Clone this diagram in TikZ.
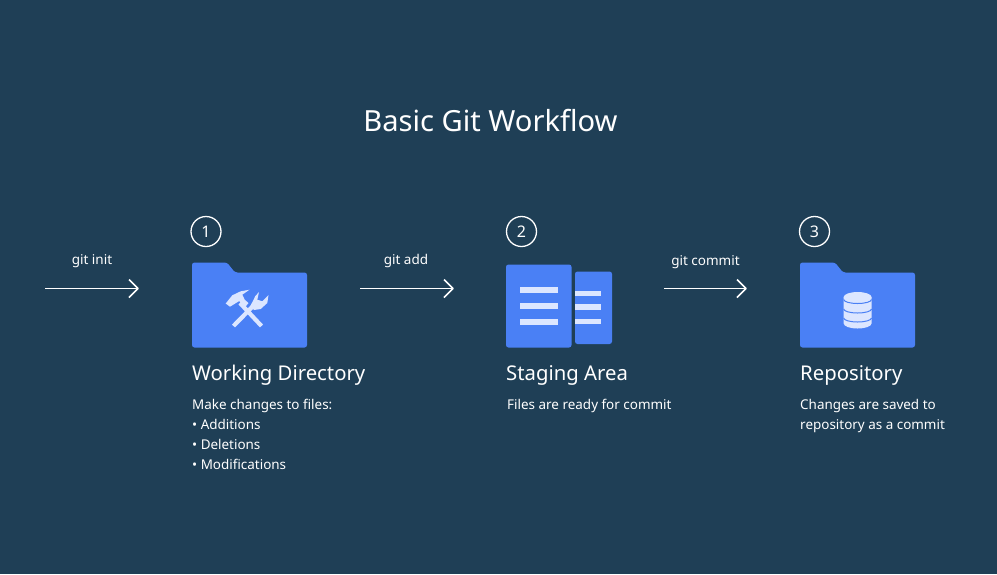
\documentclass[tikz,border=0pt]{standalone}
\usepackage{fontspec}
\setmainfont{Noto Sans}
\definecolor{bg}{HTML}{1F3F56}
\definecolor{fold}{HTML}{4A80F5}
\definecolor{ico}{HTML}{DCE6FF}
\definecolor{txt}{HTML}{FFFFFF}
\tikzset{
 x=1pt,y=-1pt,
 num/.style={circle,draw=white,line width=1.3pt,minimum size=30pt,inner sep=0pt,text=txt,font=\fontsize{16}{16}\selectfont},
 head/.style={anchor=west,inner sep=0pt,text=txt,font=\fontsize{20.3}{24}\selectfont},
 body/.style={anchor=north west,inner sep=0pt,text=txt,align=left,font=\fontsize{13.45}{20}\selectfont},
 cmd/.style={inner sep=0pt,text=txt,font=\fontsize{13.5}{16}\selectfont},
 flow/.style={draw=white,line width=1.7pt},
 tip/.style={draw=white,line width=1.7pt,line join=round},
 folder/.style={fill=fold,rounded corners=2.5pt},
 bar/.style={fill=ico}
}
\begin{document}
\begin{tikzpicture}
\fill[bg] (0,0) rectangle (997,574);
\useasboundingbox (0,0) rectangle (997,574);
\node[inner sep=0pt,text=txt,font=\fontsize{29.1}{32}\selectfont] (title) at (490.5,121) {Basic Git Workflow};
% arrows
\coordinate (a1s) at (45,288.5); \coordinate (a1e) at (138,288.5);
\coordinate (a2s) at (360,288.5); \coordinate (a2e) at (453,288.5);
\coordinate (a3s) at (664,288.5); \coordinate (a3e) at (746,288.5);
\foreach \s/\e in {a1s/a1e,a2s/a2e,a3s/a3e}{
 \draw[flow] (\s) -- (\e);
 \draw[tip] ([shift={(-9,-9)}]\e) -- (\e) -- ([shift={(-9,9)}]\e);
}
\node[cmd] (l1) at (92,261) {git init};
\node[cmd] (l2) at (406,260.5) {git add};
\node[cmd] (l3) at (705.5,262.5) {git commit};
% numbers
\node[num] (n1) at (206,231.5) {1};
\node[num] (n2) at (521.5,231.5) {2};
\node[num] (n3) at (814.5,231.5) {3};
% folders
\fill[folder] (192,347.5) -- (192,262.5) -- (227,262.5) -- (235,272.5) -- (307,272.5) -- (307,347.5) -- cycle;
\fill[folder] (800,347.5) -- (800,262.5) -- (835,262.5) -- (843,272.5) -- (915,272.5) -- (915,347.5) -- cycle;
% staging
\fill[folder] (575,271.5) rectangle (612,344);
\fill[folder] (506,264.5) rectangle (571.5,347.5);
\foreach \y in {289.5,305.5,322}{\fill[bar] (519.5,\y-3) rectangle (558,\y+3);}
\foreach \y in {293.5,307,321.5}{\fill[bar] (575,\y-2.7) rectangle (600.5,\y+2.7);}
% tools: hammer
\draw[ico,line width=4.2pt] (261.5,326) -- (240,303);
\fill[ico] (225.7,303.5) -- (232.3,295.3) -- (240.7,291.3) -- (249.5,289.7) -- (242.3,294.7) -- (244.7,299.7) -- (248.5,303) -- (244,308.5) -- (239.3,301) -- (230,306.7) -- cycle;
% tools: wrench
\draw[ico,line width=4.2pt] (233.5,326) -- (255,304);
\fill[ico] (250.5,305.5) -- (254,299) -- (255,296.5) -- (259,292) -- (257.3,299.7) -- (262.3,301.3) -- (268.5,295) -- (267.3,303) -- (260.7,309) -- (254,310) -- cycle;
% database
\fill[ico] (843.7,297) -- (843.7,323.5) arc[start angle=180,end angle=0,x radius=13.9,y radius=5] -- (871.5,297) -- cycle;
\fill[ico] (857.6,297) ellipse[x radius=13.9,y radius=5];
\foreach \y in {299.5,309,318}{\draw[fold,line width=1pt] (843.7,\y) arc[start angle=180,end angle=0,x radius=13.9,y radius=4];}
% text
\node[head] (h1) at (192,375.3) {Working Directory};
\node[head] (h2) at (506,375.3) {Staging Area};
\node[head] (h3) at (800,375.3) {Repository};
\node[body] (b1) at (192,399) {Make changes to files:\\• Additions\\• Deletions\\• Modifications};
\node[body] (b2) at (507,399) {Files are ready for commit};
\node[body] (b3) at (800,399) {Changes are saved to\\repository as a commit};
\end{tikzpicture}
\end{document}
